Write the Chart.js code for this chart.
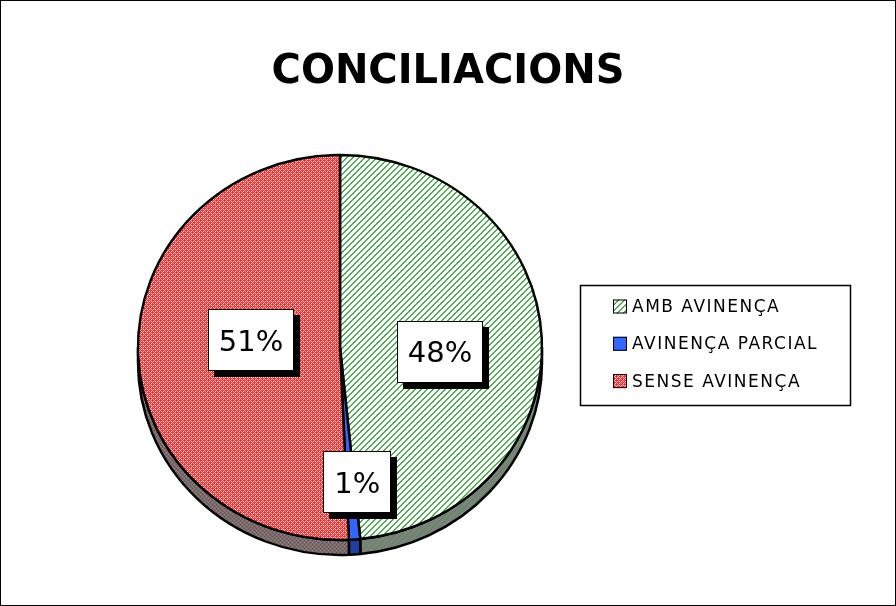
<!DOCTYPE html>
<html><head><meta charset="utf-8">
<script src="https://cdn.jsdelivr.net/npm/chart.js@4.4.1/dist/chart.umd.min.js"></script>
<style>html,body{margin:0;padding:0;background:#fff;}#wrap{width:896px;height:606px;}</style>
</head><body><div id="wrap"><canvas id="c" width="896" height="606"></canvas></div>
<script>
const titleText = 'CONCILIACIONS';
const categories = ['AMB AVINENÇA', 'AVINENÇA PARCIAL', 'SENSE AVINENÇA'];
const values = [48.4, 0.9, 50.7];

// style constants (label placement relative to each slice)
const labelRadiusFrac = [0.496, 0.704, 0.442];
const labelAngleShift = [0.095, -0.05, 0.105];
const TILT = 192.5 / 202;
const DEPTH = 15;
const PIE_CX = 340, PIE_CY = 347.5;

function makeTile(w, h, draw) {
  const c = document.createElement('canvas'); c.width = w; c.height = h;
  draw(c.getContext('2d')); return c;
}
const canvas = document.getElementById('c');
const ctx = canvas.getContext('2d');

const greenTile = makeTile(6, 6, x => {
  x.fillStyle = '#fff'; x.fillRect(0, 0, 6, 6);
  x.fillStyle = '#4caf50';
  for (let i = 0; i < 6; i++) { x.fillRect(i, 5 - i, 1, 1); x.fillRect((i + 1) % 6, 5 - i, 1, 1); }
});
const greenSideTile = makeTile(6, 6, x => {
  x.fillStyle = '#808080'; x.fillRect(0, 0, 6, 6);
  x.fillStyle = '#3f9a3f';
  for (let i = 0; i < 6; i++) { x.fillRect(i, 5 - i, 1, 1); }
});
const redTile = makeTile(4, 4, x => {
  x.fillStyle = '#ff2a2a'; x.fillRect(0, 0, 4, 4);
  x.fillStyle = '#ffffff'; x.fillRect(1, 1, 1, 1); x.fillRect(3, 3, 1, 1); x.fillRect(3, 1, 1, 1);
  x.fillStyle = '#ffb0b0'; x.fillRect(1, 3, 1, 1); x.fillRect(0, 2, 1, 1); x.fillRect(2, 0, 1, 1);
});
const redSideTile = makeTile(4, 4, x => {
  x.fillStyle = '#6f6f6f'; x.fillRect(0, 0, 4, 4);
  x.fillStyle = '#b03030'; x.fillRect(0, 0, 1, 1); x.fillRect(2, 2, 1, 1);
  x.fillStyle = '#8a8a8a'; x.fillRect(0, 2, 1, 1); x.fillRect(2, 0, 1, 1);
});

// patterns used inside the tilted (scaled) drawing: counter-scale so tiles stay pixel-aligned
const inv = new DOMMatrix().translate(PIE_CX, PIE_CY).scale(1, 1 / TILT).translate(-PIE_CX, -PIE_CY);
function tiltPat(tile) { const p = ctx.createPattern(tile, 'repeat'); p.setTransform(inv); return p; }
const greenPat = tiltPat(greenTile);
const redPat = tiltPat(redTile);
const greenSidePat = tiltPat(greenSideTile);
const redSidePat = tiltPat(redSideTile);
const faceColors = [greenPat, '#3366ff', redPat];
const sideColors = [greenSidePat, '#1f3f9f', redSidePat];
const legendColors = [ctx.createPattern(greenTile, 'repeat'), '#3366ff', ctx.createPattern(redTile, 'repeat')];

const pie3d = {
  id: 'pie3d',
  beforeDatasetsDraw(chart) {
    const c = chart.ctx;
    const meta = chart.getDatasetMeta(0);
    const cx = meta.data[0].x, cy = meta.data[0].y;
    c.save();
    c.translate(cx, cy); c.scale(1, TILT); c.translate(-cx, -cy);
    const D = DEPTH / TILT;
    meta.data.forEach((arc, i) => {
      const r = arc.outerRadius;
      const ranges = [[0, Math.PI], [2 * Math.PI, 3 * Math.PI]];
      ranges.forEach(([lo, hi]) => {
        const a = Math.max(arc.startAngle, lo), b = Math.min(arc.endAngle, hi);
        if (b <= a) return;
        c.beginPath();
        c.arc(cx, cy, r, a, b);
        c.lineTo(cx + r * Math.cos(b), cy + D + r * Math.sin(b));
        c.arc(cx, cy + D, r, b, a, true);
        c.closePath();
        c.fillStyle = sideColors[i];
        c.fill();
        c.lineWidth = 2.5; c.strokeStyle = '#000'; c.lineJoin = 'round';
        c.stroke();
      });
    });
  },
  afterDatasetsDraw(chart) {
    const c = chart.ctx;
    c.restore();
    const meta = chart.getDatasetMeta(0);
    meta.data.forEach((arc, i) => {
      const mid = (arc.startAngle + arc.endAngle) / 2 + labelAngleShift[i];
      const f = labelRadiusFrac[i];
      const px = arc.x + Math.cos(mid) * arc.outerRadius * f;
      const py = arc.y + Math.sin(mid) * arc.outerRadius * TILT * f;
      const txt = Math.round(values[i]) + '%';
      c.save();
      c.font = '29px "DejaVu Sans"';
      const tw = c.measureText(txt).width;
      const w = Math.round(tw + 22), h = 62;
      const bx = Math.round(px - w / 2), by = Math.round(py - h / 2);
      c.fillStyle = '#000';
      c.fillRect(bx + 6, by + 6, w, h);
      c.fillStyle = '#fff';
      c.fillRect(bx, by, w, h);
      c.lineWidth = 1; c.strokeStyle = '#000';
      c.strokeRect(bx + 0.5, by + 0.5, w - 1, h - 1);
      c.fillStyle = '#000';
      c.textAlign = 'center'; c.textBaseline = 'alphabetic';
      c.fillText(txt, px, py + 10.5);
      c.restore();
    });
  },
  afterDraw(chart) {
    const c = chart.ctx;
    c.save();
    c.fillStyle = '#000';
    c.font = 'bold 40px "DejaVu Sans"';
    c.textAlign = 'center'; c.textBaseline = 'alphabetic';
    c.fillText(titleText, 448, 83);
    const lx = 580, ly = 285, lw = 270, lh = 120;
    c.fillStyle = '#fff';
    c.fillRect(lx, ly, lw, lh);
    c.lineWidth = 1.5; c.strokeStyle = '#000';
    c.strokeRect(lx + 0.5, ly + 0.5, lw, lh);
    c.font = '17px "DejaVu Sans"';
    try { c.letterSpacing = '1.5px'; } catch (e) {}
    c.textAlign = 'left'; c.textBaseline = 'middle';
    categories.forEach((lab, i) => {
      const yc = 306.5 + i * 37.3;
      c.fillStyle = legendColors[i];
      c.fillRect(613, yc - 7, 14, 14);
      c.lineWidth = 1; c.strokeStyle = '#000';
      c.strokeRect(613.5, yc - 6.5, 13, 13);
      c.fillStyle = '#000';
      c.fillText(lab, 632, yc + 1);
    });
    try { c.letterSpacing = '0px'; } catch (e) {}
    c.lineWidth = 1; c.strokeStyle = '#000';
    c.strokeRect(0.5, 0.5, chart.width - 1, chart.height - 1);
    c.restore();
  }
};

new Chart(ctx, {
  type: 'pie',
  data: {
    labels: categories,
    datasets: [{
      data: values,
      backgroundColor: faceColors,
      borderColor: '#000',
      borderWidth: 2.5,
      radius: 202,
      clip: false
    }]
  },
  options: {
    responsive: false,
    animation: false,
    layout: { padding: { left: 100, right: 316, top: 120, bottom: 31 } },
    plugins: {
      legend: { display: false },
      title: { display: false },
      tooltip: { enabled: false }
    }
  },
  plugins: [pie3d]
});
</script>
</body></html>
